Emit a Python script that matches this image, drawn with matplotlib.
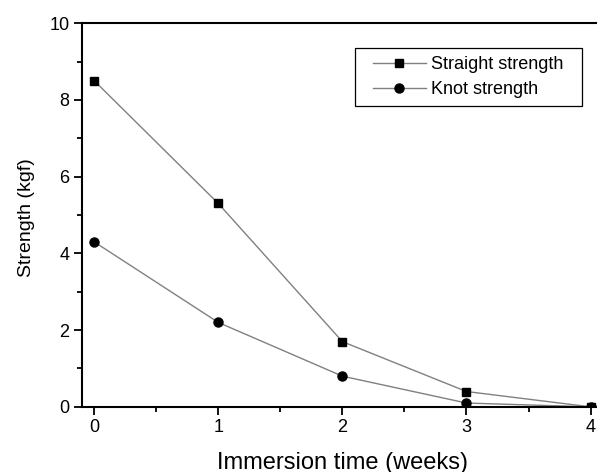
import matplotlib
matplotlib.use('Agg')
import matplotlib.pyplot as plt
from matplotlib.ticker import MultipleLocator
from matplotlib.lines import Line2D
from matplotlib.legend_handler import HandlerLine2D

plt.rcParams['font.family'] = ['Liberation Sans', 'DejaVu Sans']

weeks = [0, 1, 2, 3, 4]
straight_strength = [8.5, 5.3, 1.7, 0.4, 0.0]
knot_strength = [4.3, 2.2, 0.8, 0.1, 0.0]

fig = plt.figure(figsize=(5.97, 4.72), dpi=100)
ax = fig.add_axes([0.137, 0.138, 0.873, 0.813])

ax.plot(weeks, straight_strength, color='#808080', linewidth=1.0,
        marker='s', markersize=6, markerfacecolor='black', markeredgecolor='black',
        label='Straight strength  ')
ax.plot(weeks, knot_strength, color='#808080', linewidth=1.0,
        marker='o', markersize=6.5, markerfacecolor='black', markeredgecolor='black',
        label='Knot strength  ')

ax.set_xlim(-0.1, 4.1)
ax.set_ylim(0, 10)
ax.xaxis.set_major_locator(MultipleLocator(1))
ax.xaxis.set_minor_locator(MultipleLocator(0.5))
ax.yaxis.set_major_locator(MultipleLocator(2))
ax.yaxis.set_minor_locator(MultipleLocator(1))
ax.tick_params(which='both', direction='out', top=False, right=False, labelsize=13, pad=3)
ax.tick_params(which='major', length=6, width=1.3)
ax.tick_params(which='minor', length=3.5, width=1.3)
for s in ax.spines.values():
    s.set_linewidth(1.5)

ax.set_xlabel('Immersion time (weeks)', fontsize=17, va='center')
ax.set_ylabel('Strength (kgf)', fontsize=14, va='center')
ax.xaxis.set_label_coords((343 - 82) / 521, -0.145)
ax.yaxis.set_label_coords(-0.106, 0.494)

leg = ax.legend(loc='upper right', bbox_to_anchor=(0.9597, 0.935), fontsize=13,
                fancybox=False, edgecolor='black', framealpha=1,
                handlelength=3.43, borderpad=0.45, labelspacing=0.45, handletextpad=0.33,
                borderaxespad=0, handler_map={Line2D: HandlerLine2D(xpad=0.5)})
leg.get_frame().set_linewidth(0.9)

plt.savefig('out.png', dpi=100)
